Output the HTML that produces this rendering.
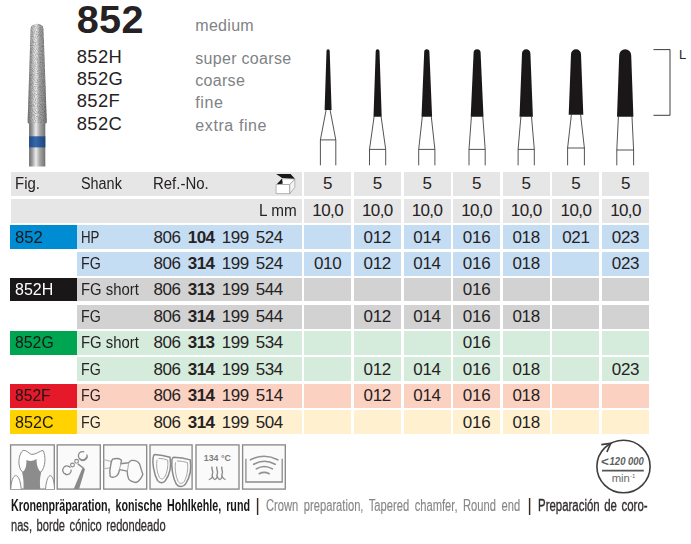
<!DOCTYPE html>
<html lang="de"><head><meta charset="utf-8"><title>852</title>
<style>
html,body{margin:0;padding:0;background:#fff;}
body{width:691px;height:544px;position:relative;overflow:hidden;font-family:"Liberation Sans",sans-serif;color:#262223;}
.a{position:absolute;white-space:nowrap;line-height:1;}
.bx{position:absolute;}
.t{font-size:16px;transform-origin:0 50%;}
.n{font-size:17px;letter-spacing:-0.3px;text-align:center;}
.g{color:#808285;font-size:16px;letter-spacing:0.3px;}
.s{font-size:18.4px;letter-spacing:0.35px;}
b{font-weight:700;}
</style></head><body>

<div class="a" style="left:76.8px;top:-0.5px;font-size:39.6px;font-weight:700;letter-spacing:0.3px;">852</div>
<div class="a g" style="left:195.3px;top:18.2px;">medium</div>
<div class="a s" style="left:76.8px;top:48.3px;">852H</div>
<div class="a g" style="left:195.3px;top:51.0px;letter-spacing:0.3px;">super coarse</div>
<div class="a s" style="left:76.8px;top:70.3px;">852G</div>
<div class="a g" style="left:195.3px;top:73.1px;letter-spacing:0.3px;">coarse</div>
<div class="a s" style="left:76.8px;top:92.3px;">852F</div>
<div class="a g" style="left:195.3px;top:95.3px;letter-spacing:0.6px;">fine</div>
<div class="a s" style="left:76.8px;top:115.3px;">852C</div>
<div class="a g" style="left:195.3px;top:118.3px;letter-spacing:0.6px;">extra fine</div>
<div class="bx" style="left:11px;top:172.00px;width:290.8px;height:23.75px;background:#e6e6e6;"></div>
<div class="bx" style="left:304.2px;top:172.00px;width:47.0px;height:23.75px;background:#e6e6e6;"></div>
<div class="a n" style="left:304.2px;width:47.0px;top:175px;">5</div>
<div class="bx" style="left:353.8px;top:172.00px;width:47.0px;height:23.75px;background:#e6e6e6;"></div>
<div class="a n" style="left:353.8px;width:47.0px;top:175px;">5</div>
<div class="bx" style="left:403.5px;top:172.00px;width:47.0px;height:23.75px;background:#e6e6e6;"></div>
<div class="a n" style="left:403.5px;width:47.0px;top:175px;">5</div>
<div class="bx" style="left:453.1px;top:172.00px;width:47.0px;height:23.75px;background:#e6e6e6;"></div>
<div class="a n" style="left:453.1px;width:47.0px;top:175px;">5</div>
<div class="bx" style="left:502.7px;top:172.00px;width:47.0px;height:23.75px;background:#e6e6e6;"></div>
<div class="a n" style="left:502.7px;width:47.0px;top:175px;">5</div>
<div class="bx" style="left:552.4px;top:172.00px;width:47.0px;height:23.75px;background:#e6e6e6;"></div>
<div class="a n" style="left:552.4px;width:47.0px;top:175px;">5</div>
<div class="bx" style="left:602.0px;top:172.00px;width:47.0px;height:23.75px;background:#e6e6e6;"></div>
<div class="a n" style="left:602.0px;width:47.0px;top:175px;">5</div>
<div class="bx" style="left:11px;top:199.25px;width:290.8px;height:23.50px;background:#e6e6e6;"></div>
<div class="bx" style="left:304.2px;top:199.25px;width:47.0px;height:23.50px;background:#e6e6e6;"></div>
<div class="a n" style="left:304.2px;width:47.0px;top:202px;letter-spacing:-0.6px;">10,0</div>
<div class="bx" style="left:353.8px;top:199.25px;width:47.0px;height:23.50px;background:#e6e6e6;"></div>
<div class="a n" style="left:353.8px;width:47.0px;top:202px;letter-spacing:-0.6px;">10,0</div>
<div class="bx" style="left:403.5px;top:199.25px;width:47.0px;height:23.50px;background:#e6e6e6;"></div>
<div class="a n" style="left:403.5px;width:47.0px;top:202px;letter-spacing:-0.6px;">10,0</div>
<div class="bx" style="left:453.1px;top:199.25px;width:47.0px;height:23.50px;background:#e6e6e6;"></div>
<div class="a n" style="left:453.1px;width:47.0px;top:202px;letter-spacing:-0.6px;">10,0</div>
<div class="bx" style="left:502.7px;top:199.25px;width:47.0px;height:23.50px;background:#e6e6e6;"></div>
<div class="a n" style="left:502.7px;width:47.0px;top:202px;letter-spacing:-0.6px;">10,0</div>
<div class="bx" style="left:552.4px;top:199.25px;width:47.0px;height:23.50px;background:#e6e6e6;"></div>
<div class="a n" style="left:552.4px;width:47.0px;top:202px;letter-spacing:-0.6px;">10,0</div>
<div class="bx" style="left:602.0px;top:199.25px;width:47.0px;height:23.50px;background:#e6e6e6;"></div>
<div class="a n" style="left:602.0px;width:47.0px;top:202px;letter-spacing:-0.6px;">10,0</div>
<div class="a t" style="left:15px;top:175.6px;transform:scaleX(0.935);">Fig.</div>
<div class="a t" style="left:81px;top:175.6px;transform:scaleX(0.90);">Shank</div>
<div class="a t" style="left:153px;top:175.6px;transform:scaleX(0.935);">Ref.-No.</div>
<div class="a t" style="left:258.6px;top:202.6px;transform:scaleX(0.955);">L mm</div>
<div class="bx" style="left:9.8px;top:225.00px;width:67.4px;height:23.75px;background:#008cd2;"></div>
<div class="a t" style="left:15px;top:229px;font-size:17px;color:#1a1718;transform:scaleX(0.98);">852</div>
<div class="bx" style="left:77.2px;top:225.00px;width:224.6px;height:23.75px;background:#c5ddf3;"></div>
<div class="a t" style="left:80.8px;top:229.6px;transform:scaleX(0.83);">HP</div>
<div class="a" style="left:153.6px;top:229px;font-size:17px;letter-spacing:-0.5px;word-spacing:3px;">806 <b>104</b> 199 524</div>
<div class="bx" style="left:304.2px;top:225.00px;width:47.0px;height:23.75px;background:#c5ddf3;"></div>
<div class="bx" style="left:353.8px;top:225.00px;width:47.0px;height:23.75px;background:#c5ddf3;"></div>
<div class="a n" style="left:353.8px;width:47.0px;top:229px;">012</div>
<div class="bx" style="left:403.5px;top:225.00px;width:47.0px;height:23.75px;background:#c5ddf3;"></div>
<div class="a n" style="left:403.5px;width:47.0px;top:229px;">014</div>
<div class="bx" style="left:453.1px;top:225.00px;width:47.0px;height:23.75px;background:#c5ddf3;"></div>
<div class="a n" style="left:453.1px;width:47.0px;top:229px;">016</div>
<div class="bx" style="left:502.7px;top:225.00px;width:47.0px;height:23.75px;background:#c5ddf3;"></div>
<div class="a n" style="left:502.7px;width:47.0px;top:229px;">018</div>
<div class="bx" style="left:552.4px;top:225.00px;width:47.0px;height:23.75px;background:#c5ddf3;"></div>
<div class="a n" style="left:552.4px;width:47.0px;top:229px;">021</div>
<div class="bx" style="left:602.0px;top:225.00px;width:47.0px;height:23.75px;background:#c5ddf3;"></div>
<div class="a n" style="left:602.0px;width:47.0px;top:229px;">023</div>
<div class="bx" style="left:77.2px;top:251.90px;width:224.6px;height:23.70px;background:#c5ddf3;"></div>
<div class="a t" style="left:80.8px;top:255.6px;transform:scaleX(0.89);">FG</div>
<div class="a" style="left:153.6px;top:255px;font-size:17px;letter-spacing:-0.5px;word-spacing:3px;">806 <b>314</b> 199 524</div>
<div class="bx" style="left:304.2px;top:251.90px;width:47.0px;height:23.70px;background:#c5ddf3;"></div>
<div class="a n" style="left:304.2px;width:47.0px;top:255px;">010</div>
<div class="bx" style="left:353.8px;top:251.90px;width:47.0px;height:23.70px;background:#c5ddf3;"></div>
<div class="a n" style="left:353.8px;width:47.0px;top:255px;">012</div>
<div class="bx" style="left:403.5px;top:251.90px;width:47.0px;height:23.70px;background:#c5ddf3;"></div>
<div class="a n" style="left:403.5px;width:47.0px;top:255px;">014</div>
<div class="bx" style="left:453.1px;top:251.90px;width:47.0px;height:23.70px;background:#c5ddf3;"></div>
<div class="a n" style="left:453.1px;width:47.0px;top:255px;">016</div>
<div class="bx" style="left:502.7px;top:251.90px;width:47.0px;height:23.70px;background:#c5ddf3;"></div>
<div class="a n" style="left:502.7px;width:47.0px;top:255px;">018</div>
<div class="bx" style="left:552.4px;top:251.90px;width:47.0px;height:23.70px;background:#c5ddf3;"></div>
<div class="bx" style="left:602.0px;top:251.90px;width:47.0px;height:23.70px;background:#c5ddf3;"></div>
<div class="a n" style="left:602.0px;width:47.0px;top:255px;">023</div>
<div class="bx" style="left:9.8px;top:278.10px;width:67.4px;height:23.40px;background:#1a1718;"></div>
<div class="a t" style="left:15px;top:281px;font-size:17px;color:#ffffff;transform:scaleX(0.94);">852H</div>
<div class="bx" style="left:77.2px;top:278.10px;width:224.6px;height:23.40px;background:#d2d2d2;"></div>
<div class="a t" style="left:80.8px;top:281.6px;transform:scaleX(0.93);">FG short</div>
<div class="a" style="left:153.6px;top:281px;font-size:17px;letter-spacing:-0.5px;word-spacing:3px;">806 <b>313</b> 199 544</div>
<div class="bx" style="left:304.2px;top:278.10px;width:47.0px;height:23.40px;background:#d2d2d2;"></div>
<div class="bx" style="left:353.8px;top:278.10px;width:47.0px;height:23.40px;background:#d2d2d2;"></div>
<div class="bx" style="left:403.5px;top:278.10px;width:47.0px;height:23.40px;background:#d2d2d2;"></div>
<div class="bx" style="left:453.1px;top:278.10px;width:47.0px;height:23.40px;background:#d2d2d2;"></div>
<div class="a n" style="left:453.1px;width:47.0px;top:281px;">016</div>
<div class="bx" style="left:502.7px;top:278.10px;width:47.0px;height:23.40px;background:#d2d2d2;"></div>
<div class="bx" style="left:552.4px;top:278.10px;width:47.0px;height:23.40px;background:#d2d2d2;"></div>
<div class="bx" style="left:602.0px;top:278.10px;width:47.0px;height:23.40px;background:#d2d2d2;"></div>
<div class="bx" style="left:77.2px;top:305.00px;width:224.6px;height:23.75px;background:#d2d2d2;"></div>
<div class="a t" style="left:80.8px;top:308.6px;transform:scaleX(0.89);">FG</div>
<div class="a" style="left:153.6px;top:308px;font-size:17px;letter-spacing:-0.5px;word-spacing:3px;">806 <b>314</b> 199 544</div>
<div class="bx" style="left:304.2px;top:305.00px;width:47.0px;height:23.75px;background:#d2d2d2;"></div>
<div class="bx" style="left:353.8px;top:305.00px;width:47.0px;height:23.75px;background:#d2d2d2;"></div>
<div class="a n" style="left:353.8px;width:47.0px;top:308px;">012</div>
<div class="bx" style="left:403.5px;top:305.00px;width:47.0px;height:23.75px;background:#d2d2d2;"></div>
<div class="a n" style="left:403.5px;width:47.0px;top:308px;">014</div>
<div class="bx" style="left:453.1px;top:305.00px;width:47.0px;height:23.75px;background:#d2d2d2;"></div>
<div class="a n" style="left:453.1px;width:47.0px;top:308px;">016</div>
<div class="bx" style="left:502.7px;top:305.00px;width:47.0px;height:23.75px;background:#d2d2d2;"></div>
<div class="a n" style="left:502.7px;width:47.0px;top:308px;">018</div>
<div class="bx" style="left:552.4px;top:305.00px;width:47.0px;height:23.75px;background:#d2d2d2;"></div>
<div class="bx" style="left:602.0px;top:305.00px;width:47.0px;height:23.75px;background:#d2d2d2;"></div>
<div class="bx" style="left:9.8px;top:331.25px;width:67.4px;height:23.50px;background:#00a551;"></div>
<div class="a t" style="left:15px;top:334px;font-size:17px;color:#1a1718;transform:scaleX(0.93);">852G</div>
<div class="bx" style="left:77.2px;top:331.25px;width:224.6px;height:23.50px;background:#d5ebdc;"></div>
<div class="a t" style="left:80.8px;top:334.6px;transform:scaleX(0.93);">FG short</div>
<div class="a" style="left:153.6px;top:334px;font-size:17px;letter-spacing:-0.5px;word-spacing:3px;">806 <b>313</b> 199 534</div>
<div class="bx" style="left:304.2px;top:331.25px;width:47.0px;height:23.50px;background:#d5ebdc;"></div>
<div class="bx" style="left:353.8px;top:331.25px;width:47.0px;height:23.50px;background:#d5ebdc;"></div>
<div class="bx" style="left:403.5px;top:331.25px;width:47.0px;height:23.50px;background:#d5ebdc;"></div>
<div class="bx" style="left:453.1px;top:331.25px;width:47.0px;height:23.50px;background:#d5ebdc;"></div>
<div class="a n" style="left:453.1px;width:47.0px;top:334px;">016</div>
<div class="bx" style="left:502.7px;top:331.25px;width:47.0px;height:23.50px;background:#d5ebdc;"></div>
<div class="bx" style="left:552.4px;top:331.25px;width:47.0px;height:23.50px;background:#d5ebdc;"></div>
<div class="bx" style="left:602.0px;top:331.25px;width:47.0px;height:23.50px;background:#d5ebdc;"></div>
<div class="bx" style="left:77.2px;top:357.10px;width:224.6px;height:23.65px;background:#d5ebdc;"></div>
<div class="a t" style="left:80.8px;top:361.6px;transform:scaleX(0.89);">FG</div>
<div class="a" style="left:153.6px;top:361px;font-size:17px;letter-spacing:-0.5px;word-spacing:3px;">806 <b>314</b> 199 534</div>
<div class="bx" style="left:304.2px;top:357.10px;width:47.0px;height:23.65px;background:#d5ebdc;"></div>
<div class="bx" style="left:353.8px;top:357.10px;width:47.0px;height:23.65px;background:#d5ebdc;"></div>
<div class="a n" style="left:353.8px;width:47.0px;top:361px;">012</div>
<div class="bx" style="left:403.5px;top:357.10px;width:47.0px;height:23.65px;background:#d5ebdc;"></div>
<div class="a n" style="left:403.5px;width:47.0px;top:361px;">014</div>
<div class="bx" style="left:453.1px;top:357.10px;width:47.0px;height:23.65px;background:#d5ebdc;"></div>
<div class="a n" style="left:453.1px;width:47.0px;top:361px;">016</div>
<div class="bx" style="left:502.7px;top:357.10px;width:47.0px;height:23.65px;background:#d5ebdc;"></div>
<div class="a n" style="left:502.7px;width:47.0px;top:361px;">018</div>
<div class="bx" style="left:552.4px;top:357.10px;width:47.0px;height:23.65px;background:#d5ebdc;"></div>
<div class="bx" style="left:602.0px;top:357.10px;width:47.0px;height:23.65px;background:#d5ebdc;"></div>
<div class="a n" style="left:602.0px;width:47.0px;top:361px;">023</div>
<div class="bx" style="left:9.8px;top:384.00px;width:67.4px;height:23.75px;background:#e6192b;"></div>
<div class="a t" style="left:15px;top:387px;font-size:17px;color:#1a1718;transform:scaleX(0.92);">852F</div>
<div class="bx" style="left:77.2px;top:384.00px;width:224.6px;height:23.75px;background:#fbd2c1;"></div>
<div class="a t" style="left:80.8px;top:387.6px;transform:scaleX(0.89);">FG</div>
<div class="a" style="left:153.6px;top:387px;font-size:17px;letter-spacing:-0.5px;word-spacing:3px;">806 <b>314</b> 199 514</div>
<div class="bx" style="left:304.2px;top:384.00px;width:47.0px;height:23.75px;background:#fbd2c1;"></div>
<div class="bx" style="left:353.8px;top:384.00px;width:47.0px;height:23.75px;background:#fbd2c1;"></div>
<div class="a n" style="left:353.8px;width:47.0px;top:387px;">012</div>
<div class="bx" style="left:403.5px;top:384.00px;width:47.0px;height:23.75px;background:#fbd2c1;"></div>
<div class="a n" style="left:403.5px;width:47.0px;top:387px;">014</div>
<div class="bx" style="left:453.1px;top:384.00px;width:47.0px;height:23.75px;background:#fbd2c1;"></div>
<div class="a n" style="left:453.1px;width:47.0px;top:387px;">016</div>
<div class="bx" style="left:502.7px;top:384.00px;width:47.0px;height:23.75px;background:#fbd2c1;"></div>
<div class="a n" style="left:502.7px;width:47.0px;top:387px;">018</div>
<div class="bx" style="left:552.4px;top:384.00px;width:47.0px;height:23.75px;background:#fbd2c1;"></div>
<div class="bx" style="left:602.0px;top:384.00px;width:47.0px;height:23.75px;background:#fbd2c1;"></div>
<div class="bx" style="left:9.8px;top:410.10px;width:67.4px;height:23.90px;background:#ffd200;"></div>
<div class="a t" style="left:15px;top:414px;font-size:17px;color:#1a1718;transform:scaleX(0.95);">852C</div>
<div class="bx" style="left:77.2px;top:410.10px;width:224.6px;height:23.90px;background:#fff1d0;"></div>
<div class="a t" style="left:80.8px;top:414.6px;transform:scaleX(0.89);">FG</div>
<div class="a" style="left:153.6px;top:414px;font-size:17px;letter-spacing:-0.5px;word-spacing:3px;">806 <b>314</b> 199 504</div>
<div class="bx" style="left:304.2px;top:410.10px;width:47.0px;height:23.90px;background:#fff1d0;"></div>
<div class="bx" style="left:353.8px;top:410.10px;width:47.0px;height:23.90px;background:#fff1d0;"></div>
<div class="bx" style="left:403.5px;top:410.10px;width:47.0px;height:23.90px;background:#fff1d0;"></div>
<div class="bx" style="left:453.1px;top:410.10px;width:47.0px;height:23.90px;background:#fff1d0;"></div>
<div class="a n" style="left:453.1px;width:47.0px;top:414px;">016</div>
<div class="bx" style="left:502.7px;top:410.10px;width:47.0px;height:23.90px;background:#fff1d0;"></div>
<div class="a n" style="left:502.7px;width:47.0px;top:414px;">018</div>
<div class="bx" style="left:552.4px;top:410.10px;width:47.0px;height:23.90px;background:#fff1d0;"></div>
<div class="bx" style="left:602.0px;top:410.10px;width:47.0px;height:23.90px;background:#fff1d0;"></div>
<svg class="bx" style="left:268px;top:168px;" width="36" height="32" viewBox="268 168 36 32">
<path d="M276.8 184.5 L282.4 178.9 L294.8 178.9 L289.8 184.5 Z" fill="#fff" stroke="#9a9a9a" stroke-width="0.5"/>
<path d="M276.8 184.2 L282.1 178.6 L282.7 183.8 Z" fill="#1a1718"/>
<path d="M276.1 184.5 L289.8 184.5 L289.8 193.6 L276.1 193.6 Z" fill="#fff" stroke="#8a8a8a" stroke-width="0.6"/>
<path d="M289.8 184.5 L294.8 179.0 L294.8 187.4 L289.8 193.6 Z" fill="#f4f4f4" stroke="#8a8a8a" stroke-width="0.6"/>
<path d="M276.2 173.9 L290.6 173.9 L294.9 178.7 L282.1 177.9 Z" fill="#1a1718"/>
</svg>
<svg class="bx" style="left:0;top:0;" width="691" height="170" viewBox="0 0 691 170">
<defs>
<linearGradient id="gh" x1="0" x2="1" y1="0" y2="0"><stop offset="0" stop-color="#747474"/><stop offset="0.16" stop-color="#9c9c9c"/><stop offset="0.36" stop-color="#dcdcdc"/><stop offset="0.46" stop-color="#e6e6e6"/><stop offset="0.62" stop-color="#a8a8a8"/><stop offset="0.85" stop-color="#8e8e8e"/><stop offset="1" stop-color="#6c6c6c"/></linearGradient>
<linearGradient id="gs" x1="0" x2="1" y1="0" y2="0"><stop offset="0" stop-color="#6a6a6a"/><stop offset="0.2" stop-color="#a0a0a0"/><stop offset="0.42" stop-color="#ececec"/><stop offset="0.65" stop-color="#a8a8a8"/><stop offset="1" stop-color="#707070"/></linearGradient>
<linearGradient id="gb" x1="0" x2="1" y1="0" y2="0"><stop offset="0" stop-color="#1f4a84"/><stop offset="0.4" stop-color="#3568ab"/><stop offset="1" stop-color="#1d457c"/></linearGradient>
<filter id="nz" x="0" y="0" width="100%" height="100%"><feTurbulence type="fractalNoise" baseFrequency="0.9" numOctaves="2" seed="3" result="n"/><feColorMatrix in="n" type="matrix" values="0 0 0 0 0  0 0 0 0 0  0 0 0 0 0  0 0 0 -1.6 1.0" result="a"/><feComposite in="a" in2="SourceGraphic" operator="in"/></filter>
</defs>
<path d="M28.6 123.4 Q27.5 123.2 27.6 121.5 L30.6 29 Q30.8 24 37 23.8 Q43.3 24 43.5 29 L46.8 121.5 Q46.9 123.2 45.8 123.4 Z" fill="url(#gh)"/>
<path d="M28.6 123.4 Q27.5 123.2 27.6 121.5 L30.6 29 Q30.8 24 37 23.8 Q43.3 24 43.5 29 L46.8 121.5 Q46.9 123.2 45.8 123.4 Z" fill="#3c3c3c" filter="url(#nz)" opacity="0.38"/>
<rect x="29.1" y="123" width="16.2" height="43.5" fill="url(#gs)"/>
<rect x="29.1" y="136.3" width="16.2" height="11.1" fill="url(#gb)"/>
<path d="M324.6 110.0 L326.5 50.9 A1.6 1.6 0 0 1 329.7 50.9 L331.6 110.0 Z" fill="#1a1718"/>
<path d="M326.1 110.0 L320.4 139.9 L320.4 165.3 M330.1 110.0 L335.8 139.9 L335.8 165.3 M320.4 139.9 L335.8 139.9" fill="none" stroke="#2a2627" stroke-width="0.8"/>
<path d="M373.5 116.7 L375.7 51.2 A1.9 1.9 0 0 1 379.5 51.2 L381.7 116.7 Z" fill="#1a1718"/>
<path d="M374.1 116.7 L369.5 149.4 L369.5 165.3 M381.1 116.7 L385.7 149.4 L385.7 165.3 M369.5 149.4 L385.7 149.4" fill="none" stroke="#2a2627" stroke-width="0.8"/>
<path d="M421.5 116.7 L424.2 51.9 A2.6 2.6 0 0 1 429.4 51.9 L432.1 116.7 Z" fill="#1a1718"/>
<path d="M422.3 116.7 L418.7 149.4 L418.7 165.3 M431.3 116.7 L434.9 149.4 L434.9 165.3 M418.7 149.4 L434.9 149.4" fill="none" stroke="#2a2627" stroke-width="0.8"/>
<path d="M470.7 116.7 L473.6 52.8 A3.5 3.5 0 0 1 480.6 52.8 L483.5 116.7 Z" fill="#1a1718"/>
<path d="M471.4 116.7 L469.0 149.4 L469.0 165.3 M482.8 116.7 L485.2 149.4 L485.2 165.3 M469.0 149.4 L485.2 149.4" fill="none" stroke="#2a2627" stroke-width="0.8"/>
<path d="M519.5 116.7 L522.0 53.5 A4.2 4.2 0 0 1 530.4 53.5 L532.9 116.7 Z" fill="#1a1718"/>
<path d="M520.9 116.7 L518.1 149.4 L518.1 165.3 M531.5 116.7 L534.3 149.4 L534.3 165.3 M518.1 149.4 L534.3 149.4" fill="none" stroke="#2a2627" stroke-width="0.8"/>
<path d="M568.7 114.7 L571.0 54.3 A5.0 5.0 0 0 1 581.0 54.3 L583.3 114.7 Z" fill="#1a1718"/>
<path d="M571.4 114.7 L567.6 148.0 L567.6 165.3 M580.6 114.7 L584.4 148.0 L584.4 165.3 M567.6 148.0 L584.4 148.0" fill="none" stroke="#2a2627" stroke-width="0.8"/>
<path d="M617.0 116.7 L619.2 55.3 A6.0 6.0 0 0 1 631.2 55.3 L633.4 116.7 Z" fill="#1a1718"/>
<path d="M618.4 116.7 L616.8 150.0 L616.8 165.3 M632.0 116.7 L633.6 150.0 L633.6 165.3 M616.8 150.0 L633.6 150.0" fill="none" stroke="#2a2627" stroke-width="0.8"/>
<path d="M653.5 49.6 L670 49.6 L670 115.3 L653.5 115.3" fill="none" stroke="#2a2627" stroke-width="0.9"/>
<text x="679" y="58.6" font-family="Liberation Sans, sans-serif" font-size="13" fill="#2a2627">L</text>
</svg>
<svg class="bx" style="left:0;top:436px;" width="691" height="62" viewBox="0 436 691 62">
<rect x="10.6" y="444.90000000000003" width="43.7" height="44.2" fill="#fafafa" stroke="#8a8a8a" stroke-width="1.35"/>
<rect x="57.2" y="444.90000000000003" width="43.1" height="44.2" fill="#fafafa" stroke="#8a8a8a" stroke-width="1.35"/>
<rect x="103.7" y="444.90000000000003" width="43.0" height="44.2" fill="#fafafa" stroke="#8a8a8a" stroke-width="1.35"/>
<rect x="150.0" y="444.90000000000003" width="42.1" height="44.2" fill="#fafafa" stroke="#8a8a8a" stroke-width="1.35"/>
<rect x="196.0" y="444.90000000000003" width="43.0" height="44.2" fill="#fafafa" stroke="#8a8a8a" stroke-width="1.35"/>
<rect x="242.6" y="444.90000000000003" width="42.7" height="44.2" fill="#fafafa" stroke="#8a8a8a" stroke-width="1.35"/>
<path d="M10.8 488.9 C11.5 472.1 19.5 470.4 21.2 488.9" fill="#fff" stroke="#8a8a8a" stroke-width="1"/>
<path d="M45.5 488.9 C47.3 470.4 53.9 472.1 54.5 488.9" fill="#fff" stroke="#8a8a8a" stroke-width="1"/>
<path d="M22.7 472.1 C16.6 467.5 18.7 453.0 23.1 450.4 C26.7 449.8 28.9 453.7 31.8 454.5 C36.1 454.5 39.7 450.9 42.9 450.4 C46.2 455.9 45.5 467.5 40.9 472.1 Z" fill="#fff" stroke="#8a8a8a" stroke-width="1"/>
<path d="M26.4 460.0 Q31.5 462.4 36.5 459.1 C36.5 466.8 39.0 471.1 41.2 472.6 C39.7 477.6 39.7 483.4 40.2 488.9 L23.5 488.9 C23.8 483.4 23.5 477.6 22.1 472.6 C25.0 470.4 26.7 466.8 26.4 460.0 Z" fill="#8c8c8c"/>
<path d="M82.4 467.9 L85.0 469.3 L79.1 489.1 L73.7 489.1 Z" fill="#8a8a8a"/>
<path d="M77.8 463.9 L84.2 468.7" stroke="#8a8a8a" stroke-width="1.4" fill="none"/>
<path d="M84.2 451.9 A 4.2 4.2 0 1 0 86.7 456.7" stroke="#8a8a8a" stroke-width="1.3" fill="none"/>
<path d="M86.7 454.4 A 4.2 4.2 0 0 1 79.8 459.0" stroke="#8a8a8a" stroke-width="1.3" fill="none"/>
<path d="M70.4 467.7 A 4.2 4.2 0 1 0 66.0 474.2" stroke="#8a8a8a" stroke-width="1.3" fill="none"/>
<path d="M65.1 474.2 A 4.2 4.2 0 0 0 71.1 469.6" stroke="#8a8a8a" stroke-width="1.3" fill="none"/>
<circle cx="76.6" cy="461.3" r="1.9" stroke="#8a8a8a" stroke-width="1.1" fill="none"/>
<circle cx="72.5" cy="465.0" r="1.9" stroke="#8a8a8a" stroke-width="1.1" fill="none"/>
<path d="M103.3 459.5 L111.9 461.6 M103.3 468.7 L110.2 467.9" stroke="#b8b8b8" stroke-width="1.1" fill="none"/>
<path d="M112.5 459.2 Q115.7 458.2 119.4 458.8 Q122.0 459.7 121.4 461.8 L120.7 463.7 L128.6 462.8 Q129.7 460.9 131.8 460.4 Q137.3 460.0 139.6 464.1 L142.8 474.4 Q140.1 481.1 135.8 482.5 Q130.4 481.5 128.6 478.8 Q127.1 475.1 127.3 471.1 L119.6 469.6 Q118.9 473.7 116.6 476.0 Q113.0 478.3 110.2 476.5 Q109.1 471.4 110.6 465.9 Q111.1 461.3 112.5 459.2 Z" fill="#fbfbfb" stroke="#8a8a8a" stroke-width="1.4" stroke-linejoin="round"/>
<path d="M121.4 461.5 L119.4 469.6 M128.6 462.8 L127.5 471.1" stroke="#a6a6a6" stroke-width="1" fill="none"/>
<path d="M154.8 454.4 Q162.6 454.9 170.0 457.2 C171.3 465.0 170.0 474.2 165.4 480.6 C163.6 483.1 159.9 483.6 157.6 480.6 C153.9 474.2 152.1 462.2 153.3 456.9 Q153.4 454.7 154.8 454.4 Z" fill="#fbfbfb" stroke="#8a8a8a" stroke-width="1.5"/>
<path d="M158.5 458.4 Q163.6 458.4 167.7 460.1 C168.3 465.9 167.4 472.3 164.5 477.4 C162.8 479.4 160.8 479.4 159.4 477.4 C156.7 472.3 156.0 464.1 157.1 459.7" fill="none" stroke="#a6a6a6" stroke-width="1"/>
<path d="M173.7 457.2 Q182.4 457.4 190.2 459.9 C191.5 467.7 190.2 476.9 185.6 483.8 C183.3 487.2 179.2 487.7 176.4 484.3 C172.7 477.9 171.1 466.8 172.0 459.5 Q172.3 457.4 173.7 457.2 Z" fill="#fbfbfb" stroke="#8a8a8a" stroke-width="1.5"/>
<path d="M176.9 461.0 Q182.9 460.9 187.5 462.6 C188.2 468.7 187.3 476.0 184.2 481.5 C182.4 484.0 179.6 484.0 178.1 481.5 C175.5 476.0 174.6 467.7 175.5 462.4" fill="none" stroke="#a6a6a6" stroke-width="1"/>
<text x="203.8" y="461.3" font-family="Liberation Sans, sans-serif" font-weight="700" font-size="9.8" fill="#7e7e7e" textLength="27" lengthAdjust="spacingAndGlyphs">134 °C</text>
<path d="M212.1 466.6 C211.0 469.1 213.8 471.4 212.5 473.7 C211.8 474.9 212.1 475.8 212.5 476.8" stroke="#8a8a8a" stroke-width="1.4" fill="none"/>
<path d="M216.9 466.6 C215.8 469.1 218.6 471.4 217.3 473.7 C216.5 474.9 216.9 475.8 217.3 476.8" stroke="#8a8a8a" stroke-width="1.4" fill="none"/>
<path d="M221.9 466.6 C220.8 469.1 223.5 471.4 222.2 473.7 C221.5 474.9 221.9 475.8 222.2 476.8" stroke="#8a8a8a" stroke-width="1.4" fill="none"/>
<path d="M208.8 479.7 Q211.2 479.5 212.5 476.8 Q213.8 479.7 214.9 479.5 Q216.2 479.5 217.3 476.8 Q218.6 479.7 219.8 479.5 Q221.0 479.5 222.2 476.8 Q223.7 479.5 225.6 479.7" stroke="#8a8a8a" stroke-width="1.3" fill="none"/>
<path d="M245.9 458.8 L245.9 482.0 L282.2 482.0 L282.2 458.8" stroke="#8a8a8a" stroke-width="1.3" fill="none"/>
<path d="M250.5 459.8 Q264.1 452.7 277.8 459.8" stroke="#909090" stroke-width="1.6" stroke-linecap="round" fill="none"/>
<path d="M253.7 464.3 Q264.1 458.2 275.1 464.3" stroke="#909090" stroke-width="1.6" stroke-linecap="round" fill="none"/>
<path d="M256.3 468.9 Q264.1 464.0 272.5 468.9" stroke="#909090" stroke-width="1.6" stroke-linecap="round" fill="none"/>
<path d="M259.2 473.7 Q264.1 471.0 269.2 473.7" stroke="#909090" stroke-width="1.6" stroke-linecap="round" fill="none"/>
<ellipse cx="623.5" cy="466.5" rx="26.6" ry="26.3" fill="#fff" stroke="#3f3f3f" stroke-width="1.6"/>
<path d="M601.3 444.6 L610.8 443.4 L606.9 452" fill="none" stroke="#3f3f3f" stroke-width="1.7" stroke-linejoin="miter"/>
<path d="M602 470.6 L643.8 470.6" stroke="#555" stroke-width="1.6"/>
<text x="600.8" y="465.8" font-family="Liberation Sans, sans-serif" font-weight="700" font-style="italic" font-size="13.5" fill="#606060">&lt;</text>
<text x="609.6" y="465.1" font-family="Liberation Sans, sans-serif" font-weight="700" font-style="italic" font-size="11.2" fill="#606060" textLength="34.3" lengthAdjust="spacingAndGlyphs">120 000</text>
<text x="611.7" y="482.3" font-family="Liberation Sans, sans-serif" font-size="11.3" fill="#6a6a6a">min<tspan font-size="6" dy="-4">-1</tspan></text>
</svg>
<div class="a" style="font-size:16px;transform-origin:0 50%;left:10.6px;top:497.6px;transform:scaleX(0.6703);word-spacing:2.98px;color:#1a1718;font-weight:700;">Kronenpräparation, konische Hohlkehle, rund</div>
<div class="a" style="font-size:16px;transform-origin:0 50%;left:256.4px;top:495px;font-size:19px;font-weight:700;color:#3a2a25;transform:scaleX(0.6);">|</div>
<div class="a" style="font-size:16px;transform-origin:0 50%;left:266.3px;top:497.6px;transform:scaleX(0.6986);word-spacing:3.44px;color:#878787;-webkit-text-stroke:0.15px #878787;">Crown preparation, Tapered chamfer, Round end</div>
<div class="a" style="font-size:16px;transform-origin:0 50%;left:527.6px;top:495px;font-size:19px;font-weight:700;color:#3a2a25;transform:scaleX(0.6);">|</div>
<div class="a" style="font-size:16px;transform-origin:0 50%;left:538.2px;top:497.6px;transform:scaleX(0.7146);word-spacing:1.96px;color:#332e2f;-webkit-text-stroke:0.35px #332e2f;">Preparación de coro-</div>
<div class="a" style="font-size:16px;transform-origin:0 50%;left:10.5px;top:518px;transform:scaleX(0.6943);word-spacing:2.16px;color:#332e2f;-webkit-text-stroke:0.3px #332e2f;">nas, borde cónico redondeado</div>
</body></html>
